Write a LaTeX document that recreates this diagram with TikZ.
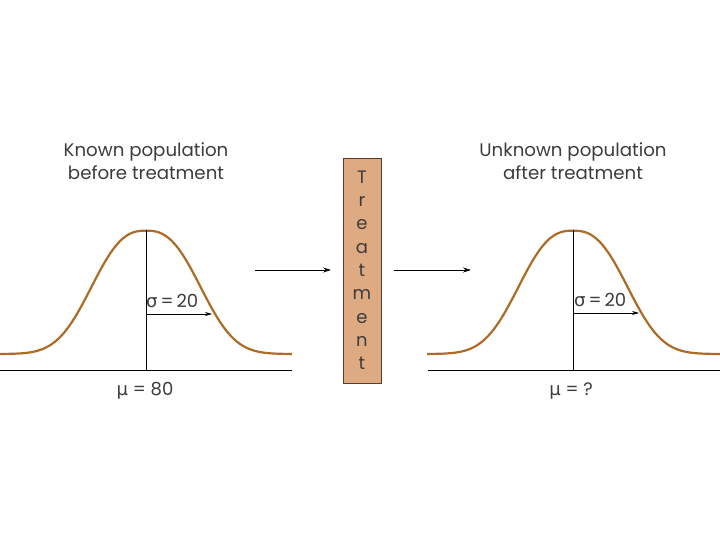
\documentclass[tikz,border=0pt]{standalone}
\usepackage{fontspec}
\setmainfont{Poppins}
\newfontfamily\grk{DejaVu Sans}
\usetikzlibrary{arrows.meta}
\definecolor{curvebrown}{RGB}{172,108,40}
\definecolor{boxfill}{RGB}{222,170,130}
\definecolor{boxedge}{RGB}{90,60,40}
\definecolor{txt}{RGB}{60,60,60}
\tikzset{
  curve/.style={draw=curvebrown, line width=2.2pt},
  axisline/.style={draw=black, line width=0.7pt},
  flow/.style={draw=black, line width=0.7pt, -{Stealth[length=8pt,width=5pt]}},
  sig/.style={draw=black, line width=0.6pt, -{Stealth[length=7pt,width=4pt]}},
  title/.style={align=center, font=\fontsize{18.2}{23}\selectfont, text=txt, inner sep=0pt},
  lab/.style={font=\fontsize{18}{20}\selectfont, text=txt, inner sep=0pt},
  letter/.style={font=\fontsize{18}{20}\selectfont, text=txt, inner sep=0pt}
}
\begin{document}
\begin{tikzpicture}[x=1pt,y=-1pt]
\useasboundingbox (0,0) rectangle (720,540);
% left population
\node[title] (ltitle) at (146,161) {Known population\\before treatment};
\draw[curve] plot[domain=0:292,samples=150,smooth] (\x,{354-123.3*exp(-((abs(\x-146)+0.001)/66)^2.6)});
\coordinate (laL) at (0,370);
\coordinate (laR) at (292,370);
\coordinate (lpeak) at (146,230);
\coordinate (lbase) at (146,370);
\coordinate (lsS) at (146,314);
\coordinate (lsE) at (212,314);
\draw[axisline] (laL) -- (laR);
\draw[axisline] (lpeak) -- (lbase);
\draw[sig] (lsS) -- (lsE);
\node[lab,anchor=base west] (lsig) at (146,307) {{\grk σ}\,=\,20};
\node[lab,anchor=base] (lmu) at (145,395) {{\grk μ} = 80};
% treatment box
\node[draw=boxedge, fill=boxfill, line width=0.8pt, minimum width=38pt, minimum height=225pt, inner sep=0pt] (box) at (362,270.5) {};
\foreach \ch [count=\i] in {T,r,e,a,t,m,e,n,t}
  \node[letter,anchor=base] (l\i) at (362,{160+23.3*\i}) {\ch};
% arrows
\coordinate (a1s) at (255,270);
\coordinate (a1e) at (331,270);
\coordinate (a2s) at (394,270);
\coordinate (a2e) at (471,270);
\draw[flow] (a1s) -- (a1e);
\draw[flow] (a2s) -- (a2e);
% right population
\node[title] (rtitle) at (573,161) {Unknown population\\after treatment};
\draw[curve] plot[domain=427:720,samples=150,smooth] (\x,{354-123.3*exp(-((abs(\x-573)+0.001)/66)^2.6)});
\coordinate (raL) at (428,370);
\coordinate (raR) at (720,370);
\coordinate (rpeak) at (573,230);
\coordinate (rbase) at (573,370);
\coordinate (rsS) at (573,313);
\coordinate (rsE) at (639,313);
\draw[axisline] (raL) -- (raR);
\draw[axisline] (rpeak) -- (rbase);
\draw[sig] (rsS) -- (rsE);
\node[lab,anchor=base west] (rsig) at (574,306) {{\grk σ}\,=\,20};
\node[lab,anchor=base] (rmu) at (571,395) {{\grk μ} = ?};
\end{tikzpicture}
\end{document}
